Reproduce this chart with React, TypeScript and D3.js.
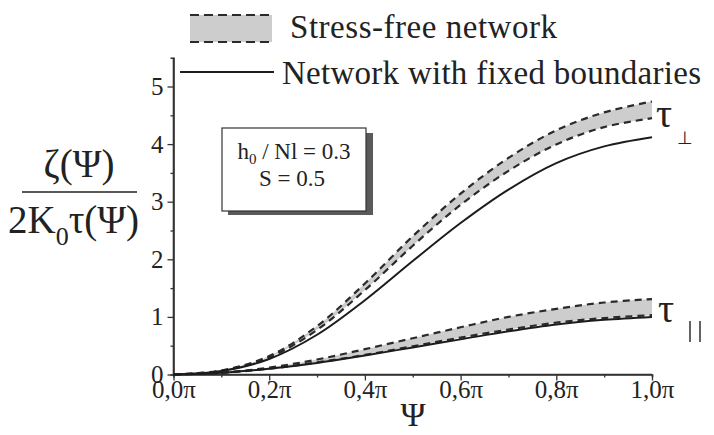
import React from 'react';
import * as d3 from 'd3';

// psi in units of pi
const psiValues = [0, 0.1, 0.2, 0.3, 0.4, 0.5, 0.6, 0.7, 0.8, 0.9, 1.0];

// tau_perp: stress-free band (upper / lower dashed) and fixed-boundary curve
const perpUpper = [0, 0.07, 0.32, 0.84, 1.58, 2.4, 3.14, 3.76, 4.24, 4.55, 4.74];
const perpLower = [0, 0.065, 0.295, 0.775, 1.465, 2.235, 2.945, 3.535, 3.995, 4.295, 4.45];
const perpSolid = [0, 0.06, 0.27, 0.69, 1.29, 1.97, 2.63, 3.21, 3.67, 3.96, 4.12];

// tau_parallel
const parUpper = [0, 0.03, 0.12, 0.26, 0.44, 0.63, 0.82, 1.0, 1.14, 1.25, 1.31];
const parLower = [0, 0.03, 0.1, 0.21, 0.34, 0.49, 0.64, 0.78, 0.9, 0.98, 1.03];
const parSolid = [0, 0.03, 0.1, 0.2, 0.33, 0.47, 0.61, 0.75, 0.87, 0.95, 1.0];

const xTicks = [0, 0.2, 0.4, 0.6, 0.8, 1.0];
const xTickLabels = ['0,0π', '0,2π', '0,4π', '0,6π', '0,8π', '1,0π'];
const xMinor = [0.1, 0.3, 0.5, 0.7, 0.9];
const yTicks = [0, 1, 2, 3, 4, 5];
const yMinor = [0.5, 1.5, 2.5, 3.5, 4.5];

const legendLabels = ['Stress-free network', 'Network with fixed boundaries'];

const W = 714;
const H = 435;
const serif = '"Liberation Serif", "Times New Roman", serif';

function App() {
  const svgRef = React.useRef(null);

  React.useEffect(() => {
    const svg = d3.select(svgRef.current);
    svg.selectAll('*').remove();

    const x = d3.scaleLinear().domain([0, 1]).range([173.5, 652]);
    const y = d3.scaleLinear().domain([0, 5.5]).range([374.5, 57.7]);

    const ink = '#222';

    // axes
    const yAxis = svg.append('g').attr('transform', `translate(${x(0)},0)`);
    yAxis.call(
      d3.axisLeft(y).tickValues(yTicks).tickSize(6).tickPadding(4).tickFormat(d3.format('d'))
    );
    yAxis
      .append('g')
      .call(d3.axisLeft(y).tickValues(yMinor).tickSize(3).tickFormat(() => ''));

    const xAxis = svg.append('g').attr('transform', `translate(0,${y(0)})`);
    xAxis.call(
      d3
        .axisBottom(x)
        .tickValues(xTicks)
        .tickSize(6)
        .tickPadding(2)
        .tickFormat((d, i) => xTickLabels[i])
    );
    xAxis
      .append('g')
      .call(d3.axisBottom(x).tickValues(xMinor).tickSize(3).tickFormat(() => ''));

    svg.selectAll('.domain').attr('stroke', '#333').attr('stroke-width', 1.6);
    svg.selectAll('.tick line').attr('stroke', '#333').attr('stroke-width', 1.3);
    svg
      .selectAll('.tick text')
      .attr('font-family', serif)
      .attr('font-size', 25)
      .attr('fill', ink);
    yAxis.select('.domain').attr('d', `M0,${y(0)}V${y(5.5)}`);
    xAxis.select('.domain').attr('d', `M${x(0)},0H${x(1)}`);
    xAxis.selectAll('.tick text').attr('dy', '0.62em');

    const rows = psiValues.map((p, i) => ({ p, i }));
    const curve = d3.curveCatmullRom.alpha(0.5);

    const area = (lo, hi) =>
      d3
        .area()
        .x((d) => x(d.p))
        .y0((d) => y(lo[d.i]))
        .y1((d) => y(hi[d.i]))
        .curve(curve);

    const line = (vals) =>
      d3
        .line()
        .x((d) => x(d.p))
        .y((d) => y(vals[d.i]))
        .curve(curve);

    const bands = [
      [perpLower, perpUpper, perpSolid],
      [parLower, parUpper, parSolid],
    ];

    bands.forEach(([lo, hi, solid]) => {
      svg
        .append('path')
        .datum(rows)
        .attr('d', area(lo, hi))
        .attr('fill', '#cdcdcd');
      [lo, hi].forEach((v) => {
        svg
          .append('path')
          .datum(rows)
          .attr('d', line(v))
          .attr('fill', 'none')
          .attr('stroke', '#2a2a2a')
          .attr('stroke-width', 2.2)
          .attr('stroke-dasharray', '7,5');
      });
      svg
        .append('path')
        .datum(rows)
        .attr('d', line(solid))
        .attr('fill', 'none')
        .attr('stroke', '#1c1c1c')
        .attr('stroke-width', 2);
    });

    // legend
    svg
      .append('rect')
      .attr('x', 190)
      .attr('y', 15)
      .attr('width', 82)
      .attr('height', 27)
      .attr('fill', '#cdcdcd');
    [15, 42].forEach((yy) => {
      svg
        .append('line')
        .attr('x1', 190)
        .attr('x2', 272)
        .attr('y1', yy)
        .attr('y2', yy)
        .attr('stroke', '#2a2a2a')
        .attr('stroke-width', 2.2)
        .attr('stroke-dasharray', '9,5');
    });
    svg
      .append('text')
      .attr('x', 290)
      .attr('y', 38)
      .attr('font-family', serif)
      .attr('font-size', 33)
      .attr('fill', ink)
      .attr('textLength', 267)
      .text(legendLabels[0]);
    svg
      .append('line')
      .attr('x1', 180)
      .attr('x2', 274)
      .attr('y1', 72)
      .attr('y2', 72)
      .attr('stroke', '#1c1c1c')
      .attr('stroke-width', 2);
    svg
      .append('text')
      .attr('x', 282)
      .attr('y', 84)
      .attr('font-family', serif)
      .attr('font-size', 33)
      .attr('fill', ink)
      .attr('textLength', 419)
      .text(legendLabels[1]);

    // parameter box with shadow
    svg
      .append('rect')
      .attr('x', 228)
      .attr('y', 133)
      .attr('width', 145)
      .attr('height', 82)
      .attr('fill', '#5a5a5a');
    svg
      .append('rect')
      .attr('x', 222)
      .attr('y', 128)
      .attr('width', 144)
      .attr('height', 83)
      .attr('fill', '#fff')
      .attr('stroke', '#333')
      .attr('stroke-width', 1.2);
    const box1 = svg
      .append('text')
      .attr('x', 294)
      .attr('y', 159)
      .attr('text-anchor', 'middle')
      .attr('font-family', serif)
      .attr('font-size', 23)
      .attr('fill', ink);
    box1.append('tspan').text('h');
    box1.append('tspan').attr('font-size', 15).attr('dy', 5).text('0');
    box1.append('tspan').attr('dy', -5).text(' / Nl = 0.3');
    svg
      .append('text')
      .attr('x', 292)
      .attr('y', 186)
      .attr('text-anchor', 'middle')
      .attr('font-family', serif)
      .attr('font-size', 23)
      .attr('fill', ink)
      .text('S = 0.5');

    // y label fraction
    svg
      .append('text')
      .attr('x', 79)
      .attr('y', 177)
      .attr('text-anchor', 'middle')
      .attr('font-family', serif)
      .attr('font-size', 39)
      .attr('fill', ink)
      .text('ζ(Ψ)');
    svg
      .append('line')
      .attr('x1', 22)
      .attr('x2', 137)
      .attr('y1', 192)
      .attr('y2', 192)
      .attr('stroke', ink)
      .attr('stroke-width', 1.6);
    const den = svg
      .append('text')
      .attr('x', 8)
      .attr('y', 233)
      .attr('font-family', serif)
      .attr('font-size', 39)
      .attr('fill', ink);
    den.append('tspan').text('2K');
    den.append('tspan').attr('font-size', 26).attr('dy', 12).text('0');
    den.append('tspan').attr('dy', -12).text('τ(Ψ)');

    // x label
    svg
      .append('text')
      .attr('x', 413)
      .attr('y', 426)
      .attr('text-anchor', 'middle')
      .attr('font-family', serif)
      .attr('font-size', 34)
      .attr('fill', ink)
      .text('Ψ');

    // curve labels
    svg
      .append('text')
      .attr('x', 656)
      .attr('y', 127)
      .attr('font-family', serif)
      .attr('font-size', 40)
      .attr('fill', ink)
      .text('τ');
    svg
      .append('text')
      .attr('x', 677)
      .attr('y', 144)
      .attr('font-family', '"DejaVu Sans", sans-serif')
      .attr('font-size', 18)
      .attr('fill', ink)
      .text('⊥');
    svg
      .append('text')
      .attr('x', 658)
      .attr('y', 322)
      .attr('font-family', serif)
      .attr('font-size', 40)
      .attr('fill', ink)
      .text('τ');
    [690, 700].forEach((xx) => {
      svg
        .append('line')
        .attr('x1', xx)
        .attr('x2', xx)
        .attr('y1', 321)
        .attr('y2', 342)
        .attr('stroke', ink)
        .attr('stroke-width', 1.4);
    });
  }, []);

  return (
    <svg
      ref={svgRef}
      width={W}
      height={H}
      style={{ position: 'absolute', left: 0, top: 0, background: '#fff' }}
    ></svg>
  );
}

export default App;
